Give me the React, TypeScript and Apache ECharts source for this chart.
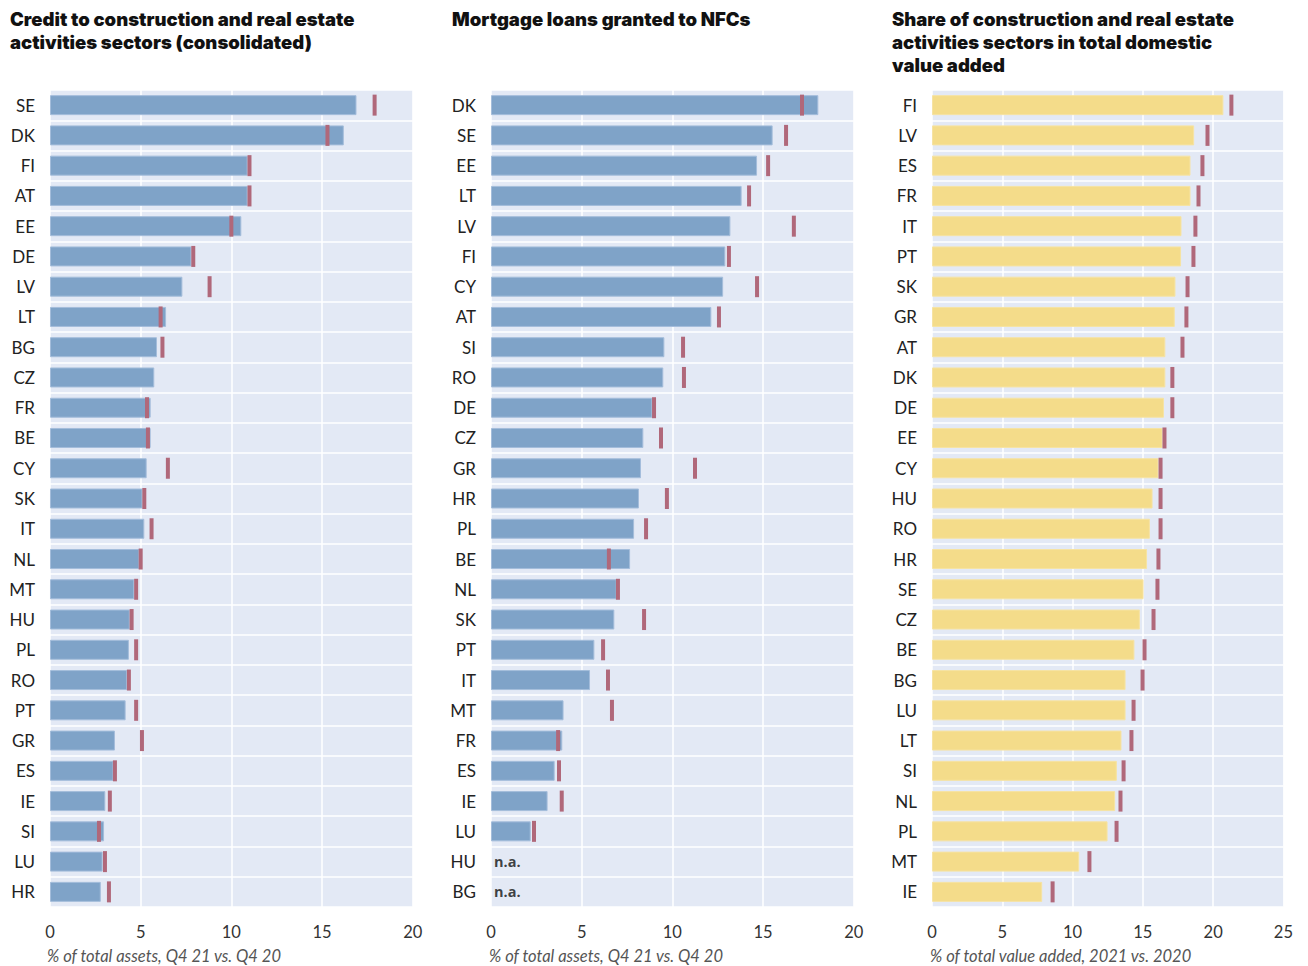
import React, { useEffect, useRef } from "react";
import * as echarts from "echarts";

const titles = [
  "Credit to construction and real estate\nactivities sectors (consolidated)",
  "Mortgage loans granted to NFCs",
  "Share of construction and real estate\nactivities sectors in total domestic\nvalue added",
];
const axisNames = [
  "% of total assets, Q4 21 vs. Q4 20",
  "% of total assets, Q4 21 vs. Q4 20",
  "% of total value added, 2021 vs. 2020",
];

const cats1 = ["SE","DK","FI","AT","EE","DE","LV","LT","BG","CZ","FR","BE","CY","SK","IT","NL","MT","HU","PL","RO","PT","GR","ES","IE","SI","LU","HR"];
const bars1 = [16.9,16.2,10.9,10.9,10.55,7.8,7.3,6.4,5.9,5.75,5.55,5.55,5.33,5.1,5.2,4.93,4.65,4.4,4.35,4.25,4.17,3.58,3.5,3.05,2.98,2.9,2.8];
const prev1 = [17.9,15.3,11.0,11.0,10.0,7.9,8.8,6.1,6.2,null,5.35,5.4,6.5,5.2,5.6,5.0,4.75,4.5,4.75,4.35,4.75,5.07,3.58,3.3,2.7,3.03,3.25];

const cats2 = ["DK","SE","EE","LT","LV","FI","CY","AT","SI","RO","DE","CZ","GR","HR","PL","BE","NL","SK","PT","IT","MT","FR","ES","IE","LU","HU","BG"];
const bars2 = [18.05,15.53,14.67,13.82,13.2,12.92,12.8,12.15,9.56,9.5,8.9,8.4,8.27,8.16,7.89,7.67,6.93,6.8,5.7,5.46,4.0,3.93,3.51,3.12,2.19,null,null];
const prev2 = [17.15,16.27,15.28,14.23,16.7,13.12,14.67,12.57,10.59,10.64,8.99,9.375,11.25,9.7,8.55,6.5,7.0,8.44,6.18,6.45,6.67,3.7,3.75,3.9,2.37,null,null];
const na2 = ["HU","BG"];

const cats3 = ["FI","LV","ES","FR","IT","PT","SK","GR","AT","DK","DE","EE","CY","HU","RO","HR","SE","CZ","BE","BG","LU","LT","SI","NL","PL","MT","IE"];
const bars3 = [20.73,18.65,18.39,18.39,17.75,17.72,17.32,17.27,16.6,16.6,16.5,16.4,16.11,15.69,15.5,15.3,15.05,14.79,14.4,13.77,13.77,13.48,13.15,13.03,12.49,10.47,7.84];
const prev3 = [21.3,19.6,19.24,18.96,18.74,18.6,18.18,18.1,17.82,17.1,17.1,16.54,16.26,16.26,16.26,16.11,16.04,15.76,15.12,14.98,14.34,14.19,13.63,13.41,13.13,11.2,8.58];

const xMax = [20, 20, 25];

const BLUE = "#7FA3C8";
const BLUE_EDGE = "#A4BDDB";
const YELLOW = "#F4DC8A";
const YELLOW_EDGE = "#F6E3A3";
const MARK = "#B0687A";
const BG = "#E3E9F5";
const FONT = "Lato, 'Open Sans', sans-serif";
const TITLE_FONT = "Inter, 'Open Sans', sans-serif";

export default function App() {
  const ref = useRef<HTMLDivElement>(null);
  useEffect(() => {
    if (!ref.current) return;
    const chart = echarts.init(ref.current, undefined, { renderer: "svg" });
    const gridLefts = [50, 491, 932];
    const gridWidths = [362.7, 362.7, 351.4];
    const titleLefts = [10, 452, 892];
    const nameLefts = [47, 489, 930];
    const cats = [cats1, cats2, cats3];
    const bars = [bars1, bars2, bars3];
    const prevs = [prev1, prev2, prev3];
    const colors = [BLUE, BLUE, YELLOW];
    const edges = [BLUE_EDGE, BLUE_EDGE, YELLOW_EDGE];

    const series: any[] = [];
    for (let i = 0; i < 3; i++) {
      series.push({
        type: "bar",
        xAxisIndex: i,
        yAxisIndex: i,
        data: bars[i],
        barWidth: 20,
        itemStyle: { color: colors[i], borderColor: edges[i], borderWidth: 1 },
        z: 2,
      });
      series.push({
        type: "scatter",
        xAxisIndex: i,
        yAxisIndex: i,
        symbol: "rect",
        symbolSize: [4, 21],
        itemStyle: { color: MARK, opacity: 1 },
        data: prevs[i].map((v, k) => (v == null ? null : [v, cats[i][k]])),
        z: 3,
      });
    }
    series.push({
      type: "scatter",
      xAxisIndex: 1,
      yAxisIndex: 1,
      symbolSize: 0,
      data: na2.map((c) => [0, c]),
      label: {
        show: true,
        position: "right",
        distance: 3,
        formatter: "n.a.",
        fontFamily: "'Open Sans', sans-serif",
        fontWeight: "bold",
        fontSize: 14.5,
        color: "#111",
      },
      z: 4,
    });

    chart.setOption({
      animation: false,
      title: titles.map((t, i) => ({
        text: t,
        left: titleLefts[i],
        top: 7.5,
        padding: 0,
        textStyle: {
          fontFamily: TITLE_FONT,
          fontWeight: 900,
          fontSize: 18.5,
          lineHeight: 23,
          color: "#111",
        },
      })),
      graphic: axisNames.map((t, i) => ({
        type: "text",
        left: nameLefts[i],
        top: 947,
        style: {
          text: t,
          fontFamily: FONT,
          fontStyle: "italic",
          fontSize: 16.5,
          fill: "#555",
        },
      })),
      grid: [0, 1, 2].map((i) => ({
        left: gridLefts[i],
        width: gridWidths[i],
        top: 90,
        height: 817,
        show: true,
        backgroundColor: BG,
        borderWidth: 0,
      })),
      xAxis: [0, 1, 2].map((i) => ({
        type: "value",
        gridIndex: i,
        min: 0,
        max: xMax[i],
        interval: 5,
        axisLine: { show: false },
        axisTick: { show: false },
        axisLabel: { fontFamily: FONT, fontSize: 16.5, color: "#333", margin: 16 },
        splitLine: { show: true, lineStyle: { color: "#ffffff", width: 1.5 } },
      })),
      yAxis: [0, 1, 2].map((i) => ({
        type: "category",
        gridIndex: i,
        data: cats[i],
        inverse: true,
        axisLine: { show: false },
        axisTick: { show: false },
        axisLabel: { fontFamily: FONT, fontSize: 17, color: "#222", margin: 15 },
        splitLine: { show: true, lineStyle: { color: "#ffffff", width: 1.5 } },
      })),
      series,
    });
    return () => chart.dispose();
  }, []);
  return (
    <div
      ref={ref}
      style={{ position: "absolute", left: 0, top: 0, width: 1308, height: 966 }}
    />
  );
}
